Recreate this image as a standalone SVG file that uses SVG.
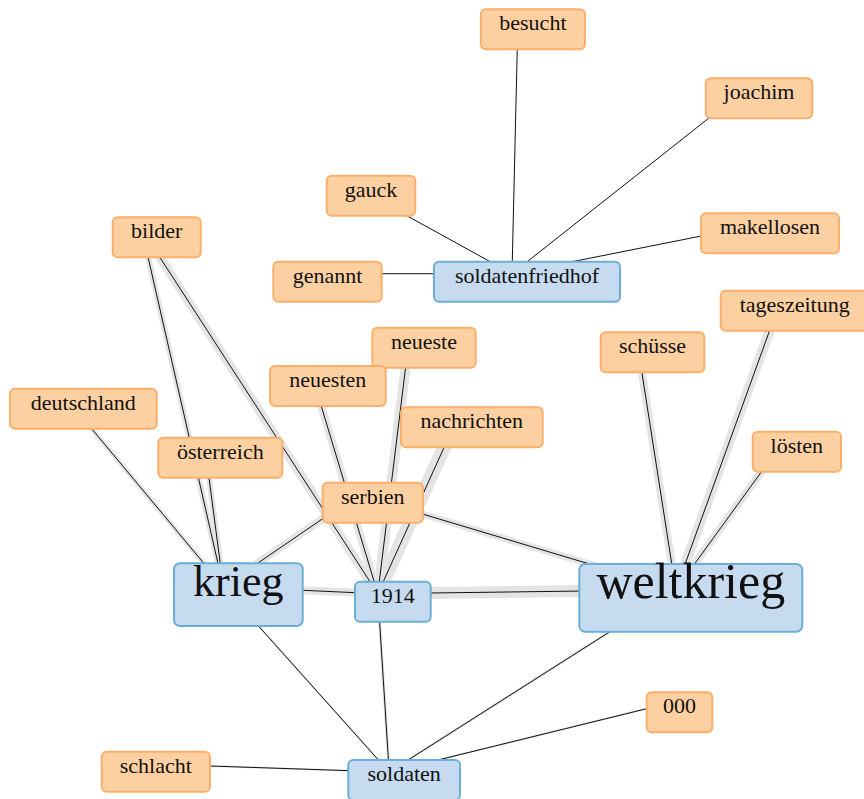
<svg xmlns="http://www.w3.org/2000/svg" width="864" height="799" viewBox="0 0 864 799">
<style>
.halo{stroke:#e4e4e4;stroke-linecap:butt;fill:none}
.edge{stroke:#111;stroke-width:1;fill:none}
.leaf rect{fill:#fdd0a2;stroke:#fdae6b;stroke-width:2}
.hub rect{fill:#c6dbef;stroke:#6baed6;stroke-width:2}
text{font-family:"Liberation Serif","Times New Roman",serif;font-size:22px;fill:#111;text-anchor:middle}
.big{font-size:44px}
.huge{font-size:50px}
</style>
<rect width="864" height="799" fill="#fff"/>
<g id="connectors">
  <g id="halos">
    <line class="halo" x1="141.7" y1="229.3" x2="223.3" y2="586.7" stroke-width="6"/>
    <line class="halo" x1="141.7" y1="229.3" x2="377.8" y2="593.7" stroke-width="9"/>
    <line class="halo" x1="68.3" y1="400.7" x2="223.3" y2="586.7" stroke-width="5"/>
    <line class="halo" x1="205.3" y1="449.7" x2="223.3" y2="586.7" stroke-width="6"/>
    <line class="halo" x1="357.8" y1="494.7" x2="223.3" y2="586.7" stroke-width="8"/>
    <line class="halo" x1="223.3" y1="586.7" x2="377.8" y2="593.7" stroke-width="8"/>
    <line class="halo" x1="223.3" y1="586.7" x2="389.2" y2="772" stroke-width="2"/>
    <line class="halo" x1="312.8" y1="378" x2="377.8" y2="593.7" stroke-width="8"/>
    <line class="halo" x1="409" y1="339.7" x2="377.8" y2="593.7" stroke-width="10"/>
    <line class="halo" x1="456.8" y1="419.3" x2="377.8" y2="593.7" stroke-width="14"/>
    <line class="halo" x1="377.8" y1="593.7" x2="675.8" y2="589.8" stroke-width="12"/>
    <line class="halo" x1="377.8" y1="593.7" x2="389.2" y2="772" stroke-width="3"/>
    <line class="halo" x1="357.8" y1="494.7" x2="675.8" y2="589.8" stroke-width="7"/>
    <line class="halo" x1="637.5" y1="344.3" x2="675.8" y2="589.8" stroke-width="8"/>
    <line class="halo" x1="779.7" y1="302.7" x2="675.8" y2="589.8" stroke-width="10"/>
    <line class="halo" x1="781.8" y1="443.7" x2="675.8" y2="589.8" stroke-width="8"/>
    <line class="halo" x1="675.8" y1="589.8" x2="389.2" y2="772" stroke-width="3"/>
    <line class="halo" x1="664.5" y1="704.3" x2="389.2" y2="772" stroke-width="2"/>
    <line class="halo" x1="140.8" y1="763.7" x2="389.2" y2="772" stroke-width="2"/>
  </g>
  <g id="lines">
    <line class="edge" x1="517.9" y1="21.3" x2="512" y2="273.7"/>
    <line class="edge" x1="744" y1="90.3" x2="512" y2="273.7"/>
    <line class="edge" x1="356" y1="187.7" x2="512" y2="273.7"/>
    <line class="edge" x1="755" y1="225.3" x2="512" y2="273.7"/>
    <line class="edge" x1="312.5" y1="273.7" x2="512" y2="273.7"/>
    <line class="edge" x1="141.7" y1="229.3" x2="223.3" y2="586.7"/>
    <line class="edge" x1="141.7" y1="229.3" x2="377.8" y2="593.7"/>
    <line class="edge" x1="68.3" y1="400.7" x2="223.3" y2="586.7"/>
    <line class="edge" x1="205.3" y1="449.7" x2="223.3" y2="586.7"/>
    <line class="edge" x1="357.8" y1="494.7" x2="223.3" y2="586.7"/>
    <line class="edge" x1="223.3" y1="586.7" x2="377.8" y2="593.7"/>
    <line class="edge" x1="223.3" y1="586.7" x2="389.2" y2="772"/>
    <line class="edge" x1="312.8" y1="378" x2="377.8" y2="593.7"/>
    <line class="edge" x1="409" y1="339.7" x2="377.8" y2="593.7"/>
    <line class="edge" x1="456.8" y1="419.3" x2="377.8" y2="593.7"/>
    <line class="edge" x1="377.8" y1="593.7" x2="675.8" y2="589.8"/>
    <line class="edge" x1="377.8" y1="593.7" x2="389.2" y2="772"/>
    <line class="edge" x1="357.8" y1="494.7" x2="675.8" y2="589.8"/>
    <line class="edge" x1="637.5" y1="344.3" x2="675.8" y2="589.8"/>
    <line class="edge" x1="779.7" y1="302.7" x2="675.8" y2="589.8"/>
    <line class="edge" x1="781.8" y1="443.7" x2="675.8" y2="589.8"/>
    <line class="edge" x1="675.8" y1="589.8" x2="389.2" y2="772"/>
    <line class="edge" x1="664.5" y1="704.3" x2="389.2" y2="772"/>
    <line class="edge" x1="140.8" y1="763.7" x2="389.2" y2="772"/>
  </g>
</g>
<g id="nodes">
  <g id="n-besucht" class="leaf"><rect x="480.9" y="9.3" width="104" height="40" rx="5"/><text x="532.9" y="30.3">besucht</text></g>
  <g id="n-joachim" class="leaf"><rect x="705.8" y="78.3" width="106.5" height="40" rx="5"/><text x="759" y="99.3">joachim</text></g>
  <g id="n-gauck" class="leaf"><rect x="326.7" y="175.7" width="88.6" height="40" rx="5"/><text x="371" y="196.7">gauck</text></g>
  <g id="n-makellosen" class="leaf"><rect x="701" y="213.3" width="138" height="40" rx="5"/><text x="770" y="234.3">makellosen</text></g>
  <g id="n-genannt" class="leaf"><rect x="273.3" y="261.7" width="108.4" height="40" rx="5"/><text x="327.5" y="282.7">genannt</text></g>
  <g id="n-soldatenfriedhof" class="hub"><rect x="434" y="261.7" width="186" height="40" rx="5"/><text x="527" y="282.7">soldatenfriedhof</text></g>
  <g id="n-bilder" class="leaf"><rect x="112.7" y="217.3" width="88" height="40" rx="5"/><text x="156.7" y="238.3">bilder</text></g>
  <g id="n-tageszeitung" class="leaf"><rect x="720.7" y="290.7" width="148" height="40" rx="5"/><text x="794.7" y="311.7">tageszeitung</text></g>
  <g id="n-neueste" class="leaf"><rect x="372.3" y="327.7" width="103.4" height="40" rx="5"/><text x="424" y="348.7">neueste</text></g>
  <g id="n-schuesse" class="leaf"><rect x="600.7" y="332.3" width="103.6" height="40" rx="5"/><text x="652.5" y="353.3">schüsse</text></g>
  <g id="n-neuesten" class="leaf"><rect x="270" y="366" width="115.7" height="40" rx="5"/><text x="327.8" y="387">neuesten</text></g>
  <g id="n-deutschland" class="leaf"><rect x="10" y="388.7" width="146.7" height="40" rx="5"/><text x="83.3" y="409.7">deutschland</text></g>
  <g id="n-nachrichten" class="leaf"><rect x="401" y="407.3" width="141.7" height="40" rx="5"/><text x="471.8" y="428.3">nachrichten</text></g>
  <g id="n-oesterreich" class="leaf"><rect x="158.3" y="437.7" width="124" height="40" rx="5"/><text x="220.3" y="458.7">österreich</text></g>
  <g id="n-loesten" class="leaf"><rect x="752.7" y="431.7" width="88.3" height="40" rx="5"/><text x="796.8" y="452.7">lösten</text></g>
  <g id="n-serbien" class="leaf"><rect x="322.7" y="482.7" width="100.3" height="40" rx="5"/><text x="372.8" y="503.7">serbien</text></g>
  <g id="n-krieg" class="hub"><rect x="174" y="563.3" width="128.7" height="62.7" rx="6"/><text class="big" x="238.3" y="595.5">krieg</text></g>
  <g id="n-1914" class="hub"><rect x="355" y="581.7" width="75.7" height="40" rx="5"/><text x="392.8" y="602.7">1914</text></g>
  <g id="n-weltkrieg" class="hub"><rect x="579.3" y="564" width="223" height="67.7" rx="6"/><text class="huge" x="690.8" y="598">weltkrieg</text></g>
  <g id="n-000" class="leaf"><rect x="646.7" y="692.3" width="65.6" height="40" rx="5"/><text x="679.5" y="713.3">000</text></g>
  <g id="n-schlacht" class="leaf"><rect x="101.7" y="751.7" width="108.3" height="40" rx="5"/><text x="155.8" y="772.7">schlacht</text></g>
  <g id="n-soldaten" class="hub"><rect x="348.3" y="760" width="111.7" height="40" rx="5"/><text x="404.2" y="781">soldaten</text></g>
</g>
</svg>
